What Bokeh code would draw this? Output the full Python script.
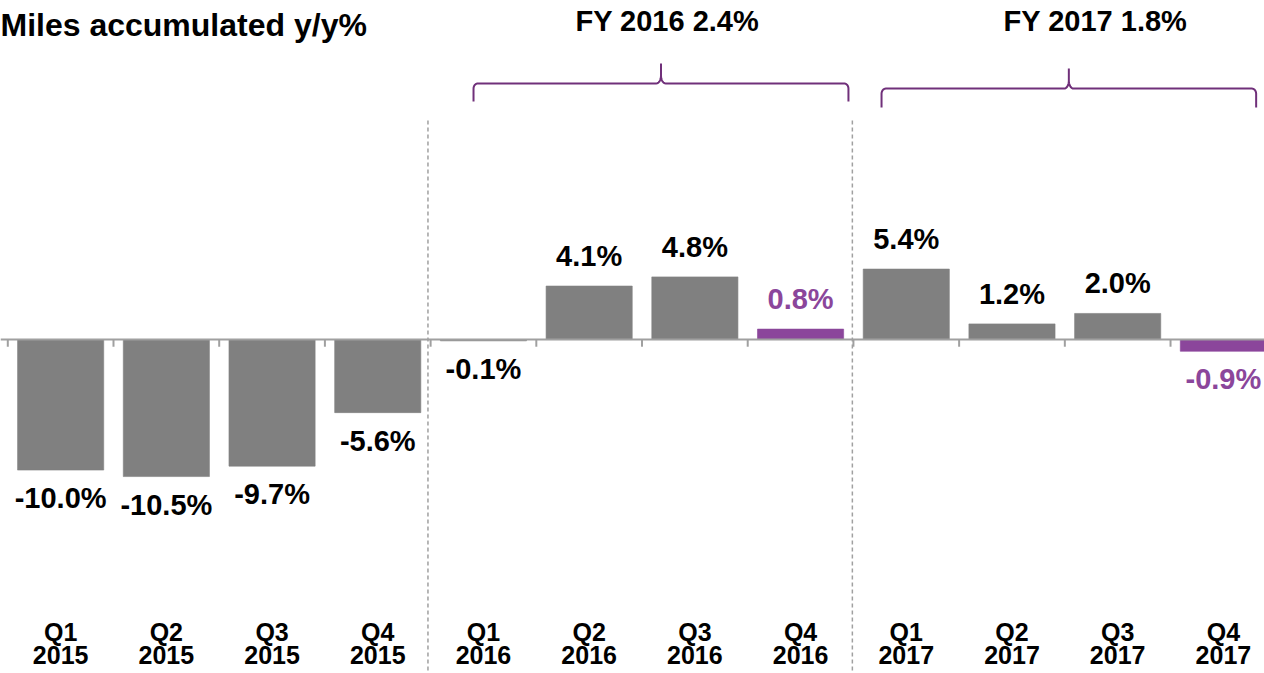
import numpy as np
from bokeh.plotting import figure
from bokeh.models import ColumnDataSource, Range1d, Span
from bokeh.core.properties import value
from bokeh.embed import file_html
from bokeh.resources import INLINE

# ---------------- data ----------------
title_text = "Miles accumulated y/y%"
quarters = ["Q1", "Q2", "Q3", "Q4", "Q1", "Q2", "Q3", "Q4", "Q1", "Q2", "Q3", "Q4"]
years = ["2015", "2015", "2015", "2015", "2016", "2016", "2016", "2016",
         "2017", "2017", "2017", "2017"]
values = [-10.0, -10.5, -9.7, -5.6, -0.1, 4.1, 4.8, 0.8, 5.4, 1.2, 2.0, -0.9]
value_labels = ["-10.0%", "-10.5%", "-9.7%", "-5.6%", "-0.1%", "4.1%", "4.8%",
                "0.8%", "5.4%", "1.2%", "2.0%", "-0.9%"]
highlight = [False, False, False, False, False, False, False, True,
             False, False, False, True]
fy_labels = ["FY 2016 2.4%", "FY 2017 1.8%"]
fy_label_x = [5.74, 9.79]
# brace spans (category units)
brace_start = [3.906, 7.766]
brace_end = [7.453, 11.31]
brace_level = [19.62, 19.23]
brace_foot = [18.24, 17.78]
brace_peak = [21.15, 20.77]
divider_x = [3.475, 7.49]

GRAY = "#808080"
PURPLE = "#8B469B"
BRACE = "#70307A"
AXIS = "#A0A0A0"
FONT = value("Liberation Sans")
SHIFT = -12  # baseline correction (px)

X0, X1 = -0.569, 11.389
Y0, Y1 = -25.59, 25.98

x = list(range(len(values)))
bar_colors = [PURPLE if h else GRAY for h in highlight]
label_colors = [PURPLE if h else "#000000" for h in highlight]

p = figure(width=1264, height=673, output_backend="svg", toolbar_location=None,
           x_range=Range1d(X0, X1), y_range=Range1d(Y0, Y1),
           min_border=0)
p.axis.visible = False
p.grid.visible = False
p.outline_line_color = None
p.background_fill_color = "white"

# dashed dividers
p.segment(x0=divider_x, y0=[16.78] * 2, x1=divider_x, y1=[Y0] * 2,
          line_color=AXIS, line_width=1.5, line_dash="4 3")

# bars
src = ColumnDataSource(dict(x=x, top=values, color=bar_colors))
p.vbar(x="x", top="top", bottom=0, width=0.815, fill_color="color",
       line_color="color", line_alpha=0.6, line_width=1, source=src)

# zero axis line + ticks
p.add_layout(Span(location=0, dimension="width", line_color=AXIS, line_width=2))
bounds = [i - 0.5 for i in range(len(values))]
p.segment(x0=bounds, y0=[0] * len(bounds), x1=bounds, y1=[-0.55] * len(bounds),
          line_color=AXIS, line_width=2)

# value labels
pos = [i for i, v in enumerate(values) if v >= 0]
neg = [i for i, v in enumerate(values) if v < 0]
for idx, off in ((pos, -18), (neg, 40)):
    s = ColumnDataSource(dict(x=[x[i] for i in idx], y=[values[i] for i in idx],
                              t=[value_labels[i] for i in idx],
                              c=[label_colors[i] for i in idx]))
    p.text(x="x", y="y", text="t", text_color="c", source=s, y_offset=off + SHIFT,
           text_align="center", text_baseline="alphabetic",
           text_font=FONT, text_font_style="bold", text_font_size="29px")

# category labels
p.text(x=x, y=[-23.3] * len(x), text=quarters, text_align="center", y_offset=SHIFT,
       text_baseline="alphabetic", text_font=FONT, text_font_style="bold",
       text_font_size="25px", text_color="#000000")
p.text(x=x, y=[-25.13] * len(x), text=years, text_align="center", y_offset=SHIFT,
       text_baseline="alphabetic", text_font=FONT, text_font_style="bold",
       text_font_size="25px", text_color="#000000")

# title
p.text(x=[X0], y=[23.14], text=[title_text], text_align="left", y_offset=SHIFT - 1,
       text_baseline="alphabetic", text_font=FONT, text_font_style="bold",
       text_font_size="32px", text_color="#000000")

# FY labels
p.text(x=fy_label_x, y=[23.52] * 2, text=fy_labels, text_align="center",
       y_offset=SHIFT, text_baseline="alphabetic", text_font=FONT,
       text_font_style="bold", text_font_size="29px", text_color="#000000")


# braces
def brace_path(x0, x1, yh, yend, ypeak, rx=0.04, ry=0.4, crx=0.045, cry=0.6):
    xm = (x0 + x1) / 2
    xs, ys = [x0], [yend]
    a = np.linspace(np.pi, np.pi / 2, 10)
    xs += list(x0 + rx + rx * np.cos(a)); ys += list(yh - ry + ry * np.sin(a))
    a = np.linspace(-np.pi / 2, 0, 10)
    xs += list(xm - crx + crx * np.cos(a)); ys += list(yh + cry + cry * np.sin(a))
    xs += [xm]; ys += [ypeak]
    a = np.linspace(np.pi, 1.5 * np.pi, 10)
    xs += list(xm + crx + crx * np.cos(a)); ys += list(yh + cry + cry * np.sin(a))
    a = np.linspace(np.pi / 2, 0, 10)
    xs += list(x1 - rx + rx * np.cos(a)); ys += list(yh - ry + ry * np.sin(a))
    xs += [x1]; ys += [yend]
    return xs, ys


for b0, b1, bl, bf, bp in zip(brace_start, brace_end, brace_level, brace_foot, brace_peak):
    bx, by = brace_path(b0, b1, bl, bf, bp)
    p.line(bx, by, line_color=BRACE, line_width=2)

open("out.html", "w").write(file_html(p, INLINE))
